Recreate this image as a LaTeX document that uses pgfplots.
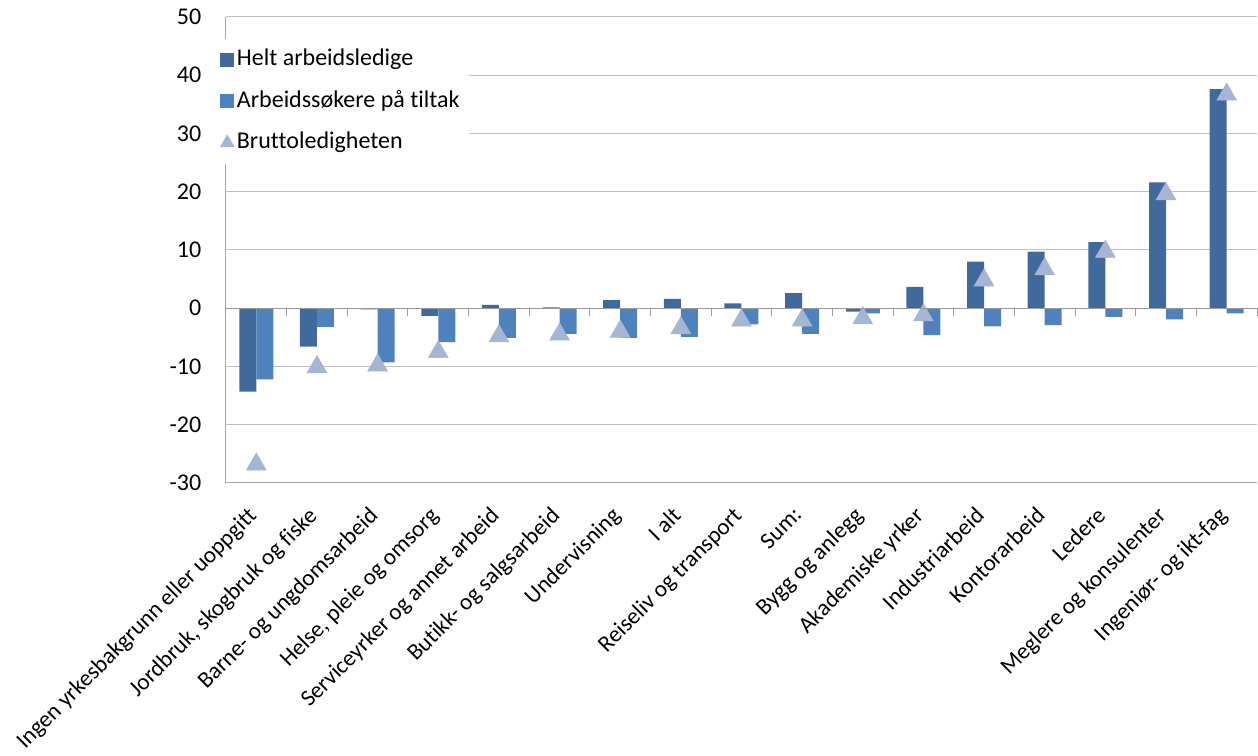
\documentclass[border=0pt]{standalone}
\usepackage{fontspec}
\setmainfont{Carlito}[Ligatures=NoCommon]
\usepackage{pgfplots}
\pgfplotsset{compat=1.18}
\definecolor{cDark}{RGB}{65,106,156}
\definecolor{cLight}{RGB}{79,129,189}
\definecolor{cTri}{RGB}{166,181,212}
\begin{document}
\begin{tikzpicture}
\begin{axis}[
  scale only axis, width=773.25pt, height=349.5pt,
  xmin=-0.5, xmax=16.5, ymin=-30, ymax=50,
  axis lines*=left,
  axis line style={-, draw=gray!70, line width=0.75pt},
  ytick={-30,-20,...,50},
  yticklabels={-30,-20,-10,0,10,20,30,40,50},
  ymajorgrids, grid style={gray!50, line width=0.75pt},
  yticklabel style={font=\fontsize{18}{21}\selectfont, xshift=-15pt},
  ytick style={draw=none},
  xtick={0,...,16},
  xticklabels={Ingen yrkesbakgrunn eller uoppgitt,{Jordbruk, skogbruk og fiske},Barne- og ungdomsarbeid,{Helse, pleie og omsorg},Serviceyrker og annet arbeid,Butikk- og salgsarbeid,Undervisning,I alt,Reiseliv og transport,Sum:,Bygg og anlegg,Akademiske yrker,Industriarbeid,Kontorarbeid,Ledere,Meglere og konsulenter,Ingeniør- og ikt-fag},
  xtick style={draw=none},
  xticklabel style={font=\fontsize{17.4}{21}\selectfont, xshift=-7.5pt, yshift=-16.8pt, rotate=45, anchor=north east, inner sep=0pt},
  clip=false,
  legend cell align=left,
  legend style={at={(0,1)}, anchor=north west, xshift=-9.5pt, yshift=-16.5pt,
    draw=none, fill=white, inner sep=5pt, row sep=10.1pt,
    font=\fontsize{18}{21}\selectfont,
    nodes={inner sep=2pt, text height=13pt, text depth=4pt},
    /tikz/every even column/.append style={column sep=3pt}},
]
\addplot[ybar, bar width=12.75pt, bar shift=-6.375pt, fill=cDark, draw=none,
  legend image code/.code={\fill[cDark] (0pt,-5.25pt) rectangle (10.5pt,5.25pt);}]
  coordinates {(0,-14.3) (1,-6.6) (2,-0.2) (3,-1.3) (4,0.6) (5,0.15) (6,1.4) (7,1.6) (8,0.85) (9,2.6) (10,-0.6) (11,3.65) (12,8.0) (13,9.7) (14,11.35) (15,21.6) (16,37.6)};
\addlegendentry{Helt arbeidsledige}
\addplot[ybar, bar width=12.75pt, bar shift=6.375pt, fill=cLight, draw=none,
  legend image code/.code={\fill[cLight] (0pt,-5.25pt) rectangle (10.5pt,5.25pt);}]
  coordinates {(0,-12.2) (1,-3.2) (2,-9.3) (3,-5.8) (4,-5.1) (5,-4.4) (6,-5.1) (7,-4.9) (8,-2.75) (9,-4.4) (10,-0.9) (11,-4.6) (12,-3.1) (13,-2.9) (14,-1.5) (15,-1.9) (16,-0.9)};
\addlegendentry{Arbeidssøkere på tiltak}
\addplot[only marks, mark=triangle*, mark size=8.6pt, mark options={fill=cTri, draw=cTri, line width=0.4pt},
  legend image code/.code={\draw[only marks, mark=triangle*, mark size=6pt, mark options={fill=cTri, draw=cTri}] plot coordinates {(5.25pt,0pt)};}]
  coordinates {(0,-26.8) (1,-10.1) (2,-9.8) (3,-7.5) (4,-4.8) (5,-4.5) (6,-4.0) (7,-3.4) (8,-2.1) (9,-2.1) (10,-1.7) (11,-1.2) (12,4.8) (13,6.7) (14,9.7) (15,19.6) (16,36.7)};
\addlegendentry{Bruttoledigheten}
\end{axis}
\begin{axis}[
  scale only axis, width=773.25pt, height=349.5pt,
  xmin=-0.5, xmax=16.5, ymin=-30, ymax=50,
  axis x line=middle, axis y line=none,
  axis line style={-, draw=gray!80, line width=0.75pt},
  xtick={-0.5,0.5,...,16.5}, xticklabels={}, ytick=\empty,
  xtick align=outside, major tick length=5.6pt,
  tick style={draw=gray!80, line width=0.75pt},
]
\end{axis}
\pgfresetboundingbox
\path (-169.5pt,-204.75pt) rectangle (774pt,362.25pt);
\end{tikzpicture}
\end{document}
